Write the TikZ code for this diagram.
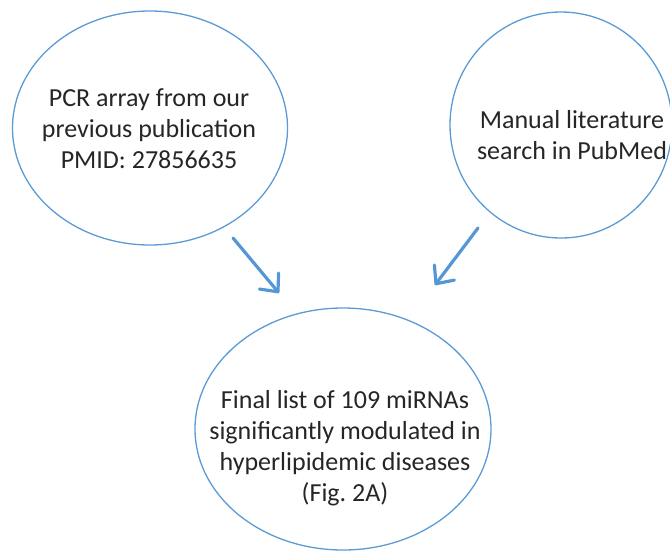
\documentclass[tikz,border=0pt]{standalone}
\usepackage{fontspec}
\setmainfont{Carlito}
\usetikzlibrary{shapes.geometric,arrows.meta}
\definecolor{ringblue}{HTML}{5B9BD5}
\definecolor{flowblue}{HTML}{5597D6}
\definecolor{inktext}{HTML}{262626}

\begin{document}
\begin{tikzpicture}[x=1pt,y=-1pt,
  bubble/.style={ellipse, draw=ringblue, line width=1.3pt, inner sep=0pt},
  caption/.style={text=inktext, font=\fontsize{26}{31}\selectfont, align=center, inner sep=0pt},
  flow/.style={draw=flowblue, line width=3.2pt, line cap=round,
    -{Straight Barb[length=14pt,width=25pt,round]}}]

  \useasboundingbox (0,0) rectangle (670,550);

  % source and result bubbles
  \node[bubble, minimum width=275pt, minimum height=234pt] (pcr) at (150,128) {};
  \node[bubble, minimum width=222pt, minimum height=226pt] (manual) at (561,125) {};
  \node[bubble, minimum width=296pt, minimum height=242pt] (final) at (343,429) {};

  % bubble captions
  \node[caption] (pcrtext) at (149,129) {PCR array from our\\previous publication\\PMID: 27856635};
  \node[caption] (manualtext) at (572,135) {Manual literature\\search in PubMed};
  \node[caption] (finaltext) at (345,448) {Final list of 109 miRNAs\\significantly modulated in\\hyperlipidemic diseases\\(Fig.\ 2A)};

  % arrow end points between the bubbles
  \coordinate (pcrout) at (233,238);
  \coordinate (pcrin) at (279,293);
  \coordinate (manualout) at (478,228);
  \coordinate (manualin) at (435,285);

  \draw[flow] (pcrout) -- (pcrin);
  \draw[flow] (manualout) -- (manualin);
\end{tikzpicture}
\end{document}
